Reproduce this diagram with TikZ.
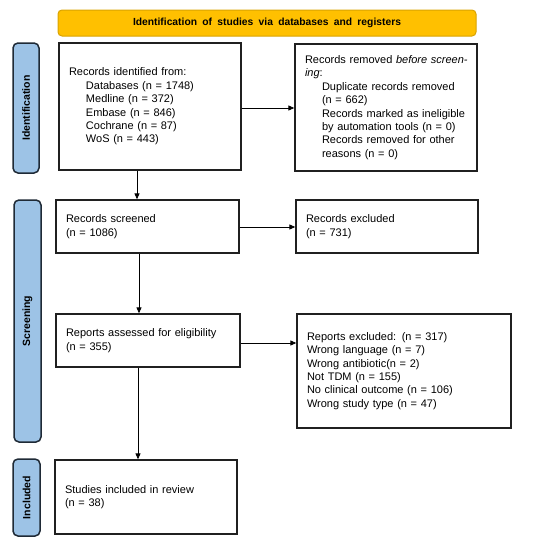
\documentclass[tikz,border=0pt]{standalone}
\usepackage{fontspec}
\setmainfont{Liberation Sans}
\usetikzlibrary{arrows.meta}
\definecolor{bannerfill}{HTML}{FFC000}
\definecolor{bannerdraw}{HTML}{D9A300}
\definecolor{sidefill}{HTML}{9DC3E6}
\definecolor{sidedraw}{HTML}{1F2A36}
\definecolor{boxdraw}{HTML}{202020}
\tikzset{
  flowbox/.style={draw=boxdraw, line width=1.3pt, rectangle, inner xsep=10pt, inner ysep=0pt,
    align=left, font=\fontsize{11}{13.4}\selectfont},
  sidebar/.style={draw=sidedraw, fill=sidefill, line width=1.5pt, rounded corners=5pt,
    rotate=90, inner sep=0pt, font=\fontsize{10.5}{12}\selectfont\bfseries},
  banner/.style={draw=bannerdraw, fill=bannerfill, line width=1pt, rounded corners=4pt,
    inner sep=0pt, font=\fontsize{10.3}{12}\selectfont\bfseries},
  arr/.style={line width=0.9pt, -{Triangle[length=6pt,width=5pt]}}
}
\begin{document}
\begin{tikzpicture}[x=1pt,y=-1pt]
\useasboundingbox (0,0) rectangle (550,546);
\node[banner, minimum width=418pt, minimum height=26pt] (ban) at (267,23) {\makebox[268pt][s]{Identification of studies via databases and registers}};
\node[sidebar, minimum width=130pt, minimum height=26pt] (s1) at (26,108) {Identification};
\node[sidebar, minimum width=242pt, minimum height=27pt] (s2) at (27.5,321) {Screening};
\node[sidebar, minimum width=77pt, minimum height=27pt] (s3) at (26.5,497.5) {Included};

\node[flowbox, text width=162pt, minimum height=127pt] (b1) at (150,106.5) {\makebox[120pt][s]{Records identified from:}\\
\hspace*{17pt}Databases (n = 1748)\\
\hspace*{17pt}Medline (n = 372)\\
\hspace*{17pt}Embase (n = 846)\\
\hspace*{17pt}Cochrane (n = 87)\\
\hspace*{17pt}WoS (n = 443)};
\node[flowbox, text width=162pt, minimum height=127pt] (b2) at (386,107.5) {\makebox[162pt][s]{Records removed \textit{before screen-}}\\
\textit{ing}:\\
\hspace*{17pt}\makebox[145pt][s]{Duplicate records removed}\\
\hspace*{17pt}(n = 662)\\
\hspace*{17pt}\makebox[145pt][s]{Records marked as ineligible}\\
\hspace*{17pt}by automation tools (n = 0)\\
\hspace*{17pt}\makebox[145pt][s]{Records removed for other}\\
\hspace*{17pt}reasons (n = 0)};
\node[flowbox, text width=163pt, minimum height=53pt] (b3) at (147.5,226.5) {Records screened\\(n = 1086)};
\node[flowbox, text width=162pt, minimum height=53pt] (b4) at (387,226.5) {Records excluded\\(n = 731)};
\node[flowbox, text width=164pt, minimum height=53pt] (b5) at (148,340.5) {Reports assessed for eligibility\\(n = 355)};
\node[flowbox, text width=194pt, minimum height=114pt] (b6) at (404,371) {Reports excluded: (n = 317)\\
Wrong language (n = 7)\\
Wrong antibiotic(n = 2)\\
Not TDM (n = 155)\\
No clinical outcome (n = 106)\\
Wrong study type (n = 47)};
\node[flowbox, text width=162pt, minimum height=74pt] (b7) at (146,497) {Studies included in review\\(n = 38)};

\coordinate (xa) at (137,0);
\coordinate (xb) at (139,0);
\coordinate (xc) at (138,0);
\coordinate (ya) at (0,108);
\coordinate (yb) at (0,227);
\coordinate (yc) at (0,343);

\draw[arr] (b1.east |- ya) -- (b2.west |- ya);
\draw[arr] (b3.east |- yb) -- (b4.west |- yb);
\draw[arr] (b5.east |- yc) -- (b6.west |- yc);
\draw[arr] (b1.south -| xa) -- (b3.north -| xa);
\draw[arr] (b3.south -| xb) -- (b5.north -| xb);
\draw[arr] (b5.south -| xc) -- (b7.north -| xc);
\end{tikzpicture}
\end{document}
